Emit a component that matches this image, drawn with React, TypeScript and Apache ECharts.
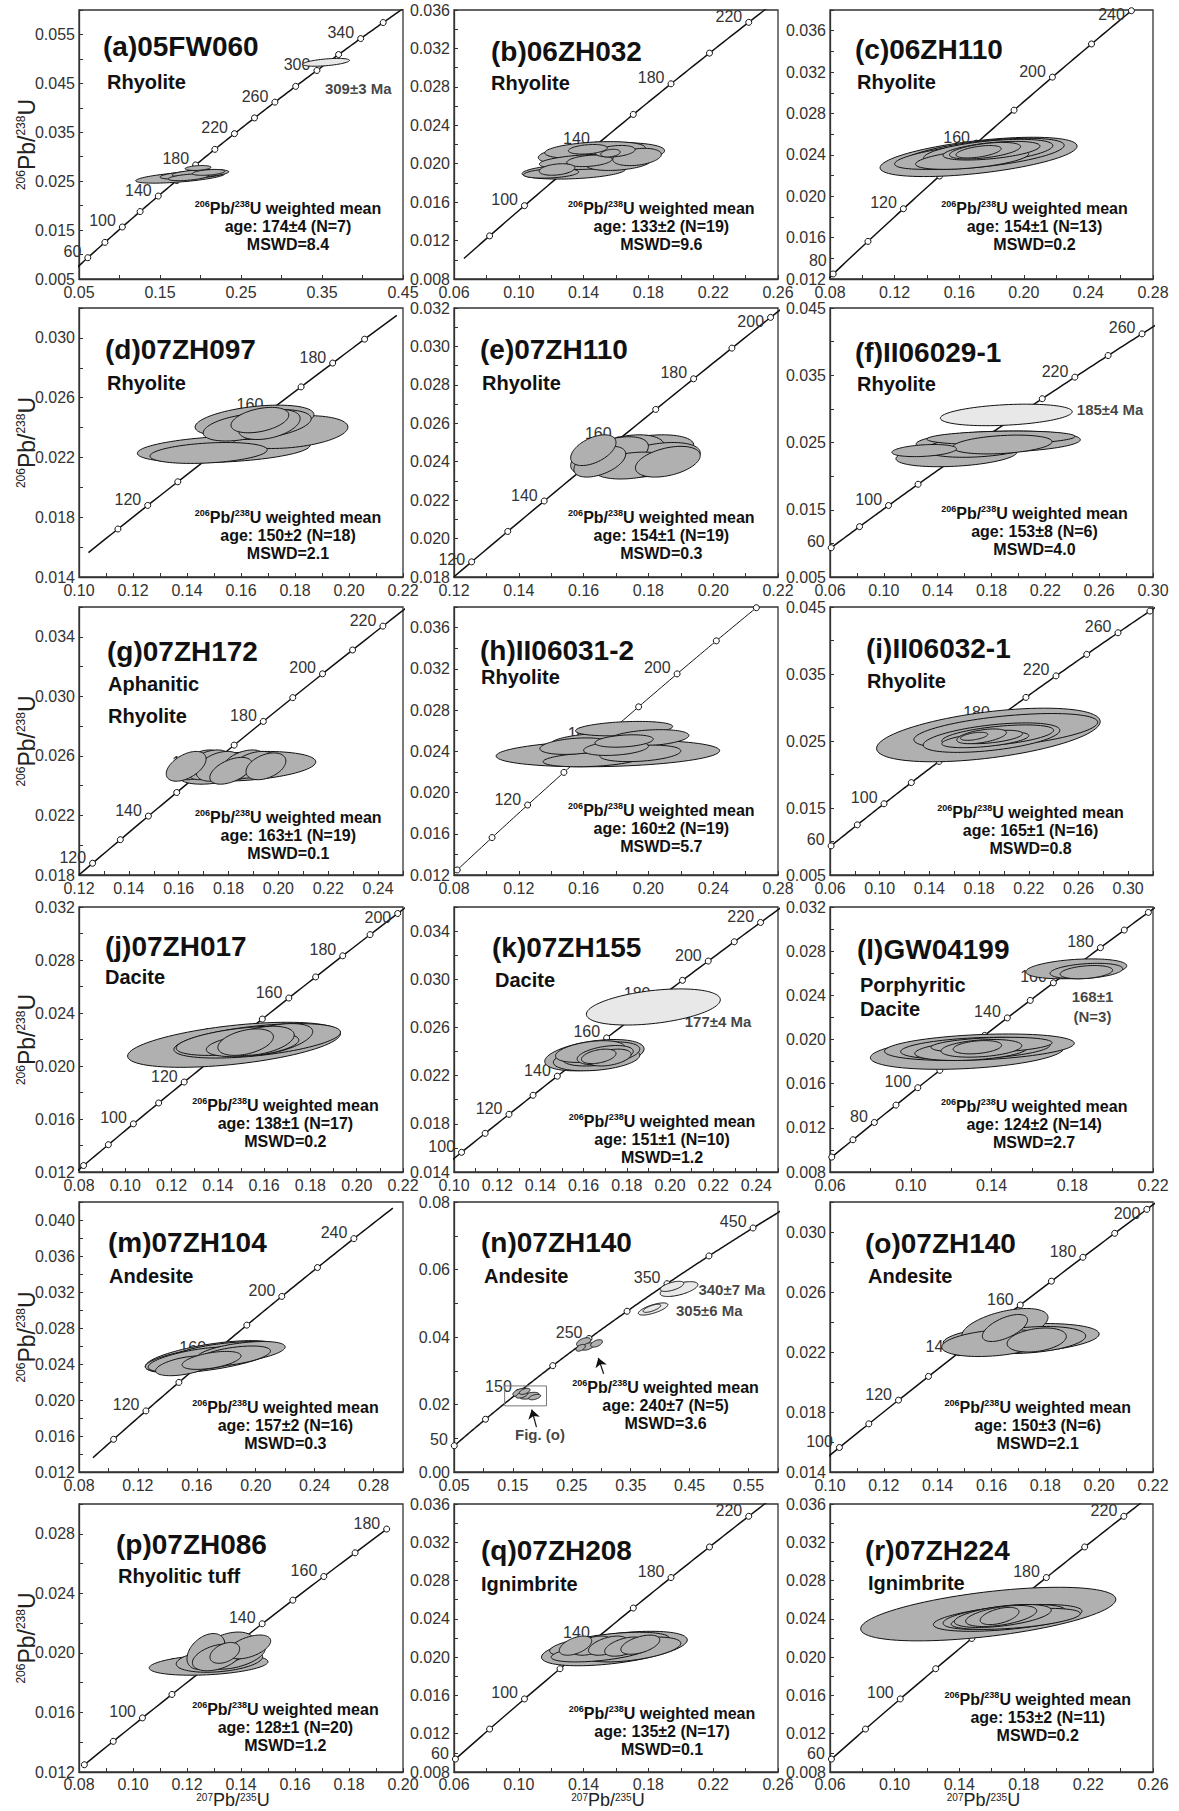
import React, { useEffect, useRef } from "react";
import * as echarts from "echarts";

// ---------- decay constants (per Ma) for the concordia curve ----------
const LAMBDA_238 = 1.55125e-4;
const LAMBDA_235 = 9.8485e-4;
const ratio206 = (t: number) => Math.exp(LAMBDA_238 * t) - 1;
const ratio207 = (t: number) => Math.exp(LAMBDA_235 * t) - 1;

// ---------- panel texts ----------
const panelLetters = ["a", "b", "c", "d", "e", "f", "g", "h", "i", "j", "k", "l", "m", "n", "o", "p", "q", "r"];
const sampleNames = ["05FW060", "06ZH032", "06ZH110", "07ZH097", "07ZH110", "II06029-1", "07ZH172", "II06031-2", "II06032-1",
  "07ZH017", "07ZH155", "GW04199", "07ZH104", "07ZH140", "07ZH140", "07ZH086", "07ZH208", "07ZH224"];
const rockNames = [["Rhyolite"], ["Rhyolite"], ["Rhyolite"], ["Rhyolite"], ["Rhyolite"], ["Rhyolite"], ["Aphanitic", "Rhyolite"],
  ["Rhyolite"], ["Rhyolite"], ["Dacite"], ["Dacite"], ["Porphyritic", "Dacite"], ["Andesite"], ["Andesite"], ["Andesite"],
  ["Rhyolitic tuff"], ["Ignimbrite"], ["Ignimbrite"]];
const meanAges = ["174±4 (N=7)", "133±2 (N=19)", "154±1 (N=13)", "150±2 (N=18)", "154±1 (N=19)", "153±8 (N=6)", "163±1 (N=19)",
  "160±2 (N=19)", "165±1 (N=16)", "138±1 (N=17)", "151±1 (N=10)", "124±2 (N=14)", "157±2 (N=16)", "240±7 (N=5)", "150±3 (N=6)",
  "128±1 (N=20)", "135±2 (N=17)", "153±2 (N=11)"];
const mswdValues = ["8.4", "9.6", "0.2", "2.1", "0.3", "4.0", "0.1", "5.7", "0.8", "0.2", "1.2", "2.7", "0.3", "3.6", "2.1", "1.2", "0.1", "0.2"];

// ---------- axes: [min, max, tick step, label step] ----------
const xAxisRanges = [
  [0.05, 0.45, 0.05, 0.1], [0.06, 0.26, 0.02, 0.04], [0.08, 0.28, 0.02, 0.04],
  [0.1, 0.22, 0.01, 0.02], [0.12, 0.22, 0.01, 0.02], [0.06, 0.3, 0.02, 0.04],
  [0.12, 0.25, 0.01, 0.02], [0.08, 0.28, 0.02, 0.04], [0.06, 0.32, 0.02, 0.04],
  [0.08, 0.22, 0.01, 0.02], [0.1, 0.25, 0.01, 0.02], [0.06, 0.22, 0.02, 0.04],
  [0.08, 0.3, 0.02, 0.04], [0.05, 0.6, 0.05, 0.1], [0.1, 0.22, 0.01, 0.02],
  [0.08, 0.2, 0.01, 0.02], [0.06, 0.26, 0.02, 0.04], [0.06, 0.26, 0.02, 0.04],
];
const yAxisRanges = [
  [0.005, 0.06, 0.005, 0.01], [0.008, 0.036, 0.002, 0.004], [0.012, 0.038, 0.002, 0.004],
  [0.014, 0.032, 0.002, 0.004], [0.018, 0.032, 0.001, 0.002], [0.005, 0.045, 0.005, 0.01],
  [0.018, 0.036, 0.002, 0.004], [0.012, 0.038, 0.002, 0.004], [0.005, 0.045, 0.005, 0.01],
  [0.012, 0.032, 0.002, 0.004], [0.014, 0.036, 0.002, 0.004], [0.008, 0.032, 0.002, 0.004],
  [0.012, 0.042, 0.002, 0.004], [0.0, 0.08, 0.01, 0.02], [0.014, 0.032, 0.002, 0.004],
  [0.012, 0.03, 0.002, 0.004], [0.008, 0.036, 0.002, 0.004], [0.008, 0.036, 0.002, 0.004],
];
const yLabelDecimals = [3, 3, 3, 3, 3, 3, 3, 3, 3, 3, 3, 3, 3, 2, 3, 3, 3, 3];

// ---------- concordia ages (Ma) ----------
const markerAges = [
  [60, 80, 100, 120, 140, 160, 180, 200, 220, 240, 260, 280, 300, 320, 340, 360],
  [80, 100, 120, 140, 160, 180, 200, 220],
  [80, 100, 120, 140, 160, 180, 200, 220, 240],
  [110, 120, 130, 140, 150, 160, 170, 180, 190],
  [120, 130, 140, 150, 160, 170, 180, 190, 200],
  [60, 80, 100, 120, 140, 160, 180, 200, 220, 240, 260],
  [120, 130, 140, 150, 160, 170, 180, 190, 200, 210, 220],
  [80, 100, 120, 140, 160, 180, 200, 220, 240],
  [60, 80, 100, 120, 140, 160, 180, 200, 220, 240, 260, 280],
  [80, 90, 100, 110, 120, 130, 140, 150, 160, 170, 180, 190, 200],
  [100, 110, 120, 130, 140, 150, 160, 170, 180, 190, 200, 210, 220],
  [60, 70, 80, 90, 100, 110, 120, 130, 140, 150, 160, 170, 180, 190, 200],
  [100, 120, 140, 160, 180, 200, 220, 240],
  [50, 100, 150, 200, 250, 300, 350, 400, 450],
  [100, 110, 120, 130, 140, 150, 160, 170, 180, 190, 200],
  [80, 90, 100, 110, 120, 130, 140, 150, 160, 170, 180],
  [60, 80, 100, 120, 140, 160, 180, 200, 220],
  [60, 80, 100, 120, 140, 160, 180, 200, 220],
];
const labelAges = [
  [60, 100, 140, 180, 220, 260, 300, 340], [100, 140, 180, 220], [80, 120, 160, 200, 240],
  [120, 140, 160, 180], [120, 140, 160, 180, 200], [60, 100, 140, 180, 220, 260],
  [120, 140, 160, 180, 200, 220], [120, 160, 200], [60, 100, 140, 180, 220, 260],
  [100, 120, 140, 160, 180, 200], [100, 120, 140, 160, 180, 200, 220], [80, 100, 120, 140, 160, 180],
  [120, 160, 200, 240], [50, 150, 250, 350, 450], [100, 120, 140, 160, 180, 200],
  [100, 120, 140, 160, 180], [60, 100, 140, 180, 220], [60, 100, 140, 180, 220],
];
const lineAgeRanges = [
  [45, 400], [65, 240], [75, 250], [100, 200], [115, 205], [55, 290], [115, 235], [80, 240], [55, 290],
  [75, 210], [95, 235], [55, 210], [87, 262], [40, 500], [95, 210], [80, 180], [55, 235], [55, 235],
];

// ---------- error ellipses: [centre 207/235, centre 206/238, half-width x, half-height y, rho] ----------
const ellipsesA = [[0.175, 0.0258, 0.055, 0.0012, 0.6], [0.19, 0.0263, 0.04, 0.0009, 0.5], [0.2, 0.0266, 0.035, 0.0008, 0.4],
  [0.185, 0.0258, 0.025, 0.0007, 0.5], [0.21, 0.0268, 0.02, 0.0006, 0.4], [0.197, 0.0277, 0.016, 0.0005, 0.3]];
const ellipsesB = [[0.151, 0.021, 0.039, 0.0012, 0.3], [0.134, 0.0192, 0.032, 0.0008, 0.3], [0.147, 0.0214, 0.031, 0.0009, 0.3],
  [0.1447, 0.0202, 0.032, 0.0008, 0.3], [0.1615, 0.0201, 0.02, 0.0008, 0.3], [0.173, 0.0207, 0.015, 0.0009, 0.3],
  [0.12, 0.019, 0.017, 0.0005, 0.3], [0.1436, 0.0203, 0.014, 0.0006, 0.3], [0.1595, 0.0213, 0.0123, 0.0006, 0.3],
  [0.1236, 0.0194, 0.011, 0.0006, 0.3], [0.1426, 0.0215, 0.012, 0.0005, 0.3], [0.1566, 0.0211, 0.006, 0.0004, 0.3]];
const ellipsesC = [[0.172, 0.0238, 0.061, 0.0019, 0.55], [0.175, 0.0241, 0.05, 0.0015, 0.55], [0.165, 0.0239, 0.045, 0.0013, 0.6],
  [0.178, 0.0243, 0.04, 0.0012, 0.5], [0.168, 0.0236, 0.035, 0.001, 0.5], [0.18, 0.0244, 0.03, 0.0009, 0.5],
  [0.176, 0.0244, 0.022, 0.0008, 0.5], [0.172, 0.0243, 0.014, 0.0006, 0.5]];
const ellipsesD = [[0.1536, 0.02255, 0.032, 0.0009, 0.3], [0.148, 0.0223, 0.0217, 0.0007, 0.3], [0.165, 0.02445, 0.022, 0.00105, 0.4],
  [0.178, 0.0237, 0.0216, 0.0011, 0.3], [0.168, 0.0242, 0.018, 0.001, 0.4], [0.16, 0.024, 0.014, 0.0009, 0.4],
  [0.1705, 0.0242, 0.0114, 0.001, 0.4], [0.167, 0.0245, 0.0107, 0.00085, 0.4]];
const ellipsesE = [[0.178, 0.0245, 0.016, 0.0009, 0.4], [0.182, 0.0241, 0.014, 0.0009, 0.4], [0.172, 0.0244, 0.013, 0.001, 0.4],
  [0.168, 0.0243, 0.012, 0.001, 0.5], [0.175, 0.0238, 0.012, 0.0007, 0.3], [0.186, 0.024, 0.01, 0.0008, 0.4],
  [0.165, 0.024, 0.008, 0.0008, 0.5], [0.163, 0.0246, 0.007, 0.0008, 0.5]];
const ellipsesF = [[0.185, 0.0251, 0.061, 0.0016, 0.2], [0.187, 0.0257, 0.055, 0.001, 0.2], [0.154, 0.0231, 0.045, 0.0017, 0.3],
  [0.171, 0.0244, 0.04, 0.0016, 0.3], [0.188, 0.0247, 0.037, 0.0014, 0.3], [0.13, 0.0238, 0.024, 0.0009, 0.3]];
const ellipsesG = [[0.186, 0.0253, 0.029, 0.001, 0.3], [0.175, 0.025, 0.015, 0.0009, 0.4], [0.163, 0.0253, 0.008, 0.001, 0.5],
  [0.168, 0.0254, 0.009, 0.001, 0.5], [0.172, 0.0254, 0.009, 0.001, 0.4], [0.176, 0.0253, 0.009, 0.001, 0.4],
  [0.181, 0.025, 0.0085, 0.0009, 0.5], [0.186, 0.0254, 0.009, 0.001, 0.4], [0.19, 0.0254, 0.009, 0.0009, 0.4],
  [0.195, 0.0253, 0.008, 0.0009, 0.4]];
const ellipsesH = [[0.175, 0.0238, 0.069, 0.0013, 0.2], [0.185, 0.0262, 0.03, 0.0007, 0.3], [0.17, 0.025, 0.03, 0.0008, 0.3],
  [0.165, 0.0232, 0.03, 0.0007, 0.3], [0.2, 0.0253, 0.025, 0.0008, 0.3], [0.195, 0.0238, 0.025, 0.0008, 0.3],
  [0.155, 0.0245, 0.022, 0.0008, 0.3], [0.18, 0.0243, 0.02, 0.0007, 0.3], [0.185, 0.025, 0.018, 0.0006, 0.3]];
const ellipsesI = [[0.1875, 0.0259, 0.09, 0.004, 0.5], [0.2015, 0.0265, 0.074, 0.0026, 0.5], [0.19, 0.0255, 0.055, 0.0022, 0.5],
  [0.195, 0.0258, 0.045, 0.0016, 0.5], [0.185, 0.0252, 0.035, 0.0012, 0.5], [0.19, 0.0256, 0.025, 0.001, 0.5],
  [0.182, 0.0257, 0.02, 0.0011, 0.5], [0.176, 0.0257, 0.011, 0.0006, 0.5]];
const ellipsesJ = [[0.147, 0.0216, 0.046, 0.0017, 0.5], [0.157, 0.0219, 0.036, 0.0013, 0.5], [0.15, 0.0219, 0.028, 0.0011, 0.5],
  [0.155, 0.0216, 0.02, 0.0009, 0.4], [0.163, 0.022, 0.018, 0.0012, 0.5], [0.158, 0.0219, 0.015, 0.0011, 0.4],
  [0.152, 0.0218, 0.012, 0.001, 0.4]];
const ellipsesK = [[0.165, 0.0237, 0.023, 0.0013, 0.4], [0.166, 0.0234, 0.02, 0.001, 0.3], [0.168, 0.0238, 0.018, 0.001, 0.4],
  [0.163, 0.024, 0.016, 0.0009, 0.4], [0.17, 0.0237, 0.013, 0.0008, 0.4], [0.172, 0.0235, 0.01, 0.0007, 0.4],
  [0.167, 0.0236, 0.008, 0.0006, 0.4]];
const ellipsesL = [[0.182, 0.0264, 0.025, 0.0009, 0.3], [0.187, 0.0262, 0.018, 0.0007, 0.3], [0.187, 0.0261, 0.013, 0.0006, 0.3],
  [0.128, 0.0188, 0.048, 0.0015, 0.3], [0.134, 0.0193, 0.047, 0.0012, 0.3], [0.132, 0.0192, 0.037, 0.001, 0.3],
  [0.14, 0.0195, 0.03, 0.0007, 0.3], [0.13, 0.019, 0.028, 0.0009, 0.3], [0.135, 0.0192, 0.02, 0.0008, 0.3],
  [0.133, 0.0193, 0.012, 0.0006, 0.3]];
const ellipsesM = [[0.17, 0.0248, 0.045, 0.0018, 0.6], [0.165, 0.0246, 0.04, 0.0015, 0.6], [0.175, 0.025, 0.04, 0.0014, 0.6],
  [0.18, 0.0252, 0.038, 0.0013, 0.5], [0.16, 0.0245, 0.033, 0.0014, 0.6], [0.19, 0.0253, 0.03, 0.0012, 0.5],
  [0.185, 0.0249, 0.025, 0.0011, 0.5], [0.17, 0.0244, 0.02, 0.001, 0.5], [0.152, 0.0238, 0.02, 0.0011, 0.5]];
const ellipsesN = [[0.27, 0.0385, 0.012, 0.0013, 0.5], [0.277, 0.0372, 0.011, 0.0011, 0.5], [0.292, 0.0381, 0.01, 0.0011, 0.5],
  [0.265, 0.0368, 0.008, 0.001, 0.5], [0.162, 0.0236, 0.012, 0.0012, 0.5], [0.178, 0.0226, 0.016, 0.001, 0.5],
  [0.17, 0.0239, 0.009, 0.0009, 0.5], [0.187, 0.0222, 0.01, 0.0008, 0.5], [0.165, 0.0228, 0.01, 0.0009, 0.5]];
const ellipsesO = [[0.171, 0.0229, 0.029, 0.001, 0.3], [0.174, 0.0228, 0.021, 0.0009, 0.3], [0.161, 0.0226, 0.0195, 0.0009, 0.3],
  [0.165, 0.0237, 0.016, 0.0012, 0.5], [0.1768, 0.0228, 0.011, 0.0008, 0.3], [0.165, 0.0236, 0.0084, 0.0009, 0.6]];
const ellipsesP = [[0.128, 0.0192, 0.022, 0.0007, 0.3], [0.132, 0.0195, 0.016, 0.0008, 0.3], [0.137, 0.0199, 0.012, 0.001, 0.4],
  [0.135, 0.0203, 0.01, 0.0011, 0.4], [0.131, 0.0197, 0.009, 0.0009, 0.4], [0.127, 0.0201, 0.007, 0.0012, 0.4],
  [0.143, 0.0204, 0.008, 0.0008, 0.5], [0.134, 0.02, 0.0055, 0.0007, 0.4]];
const ellipsesQ = [[0.159, 0.0209, 0.045, 0.0018, 0.5], [0.156, 0.0213, 0.037, 0.0013, 0.5], [0.17, 0.0208, 0.03, 0.0013, 0.5],
  [0.15, 0.0205, 0.03, 0.001, 0.5], [0.135, 0.0212, 0.01, 0.001, 0.5], [0.145, 0.0212, 0.012, 0.001, 0.5],
  [0.155, 0.0212, 0.012, 0.001, 0.5], [0.165, 0.0211, 0.012, 0.001, 0.5], [0.175, 0.0213, 0.012, 0.001, 0.5]];
const ellipsesR = [[0.158, 0.0245, 0.079, 0.0028, 0.55], [0.17, 0.0241, 0.046, 0.0014, 0.5], [0.175, 0.024, 0.04, 0.0011, 0.5],
  [0.168, 0.0242, 0.038, 0.0013, 0.5], [0.167, 0.0243, 0.03, 0.0012, 0.5], [0.166, 0.0243, 0.022, 0.0011, 0.5],
  [0.165, 0.0243, 0.012, 0.0009, 0.5]];
const darkEllipseSets = [ellipsesA, ellipsesB, ellipsesC, ellipsesD, ellipsesE, ellipsesF, ellipsesG, ellipsesH, ellipsesI,
  ellipsesJ, ellipsesK, ellipsesL, ellipsesM, ellipsesN, ellipsesO, ellipsesP, ellipsesQ, ellipsesR];

// light (rejected / inherited) ellipses
const lightEllipsesA = [[0.355, 0.0493, 0.029, 0.0008, 0.5]];
const lightEllipsesF = [[0.191, 0.0291, 0.049, 0.0016, 0.3]];
const lightEllipsesK = [[0.1923, 0.0277, 0.031, 0.0015, 0.4]];
const lightEllipsesN = [[0.432, 0.0542, 0.032, 0.0022, 0.6], [0.42, 0.055, 0.02, 0.0015, 0.6],
  [0.388, 0.0483, 0.025, 0.0018, 0.7], [0.386, 0.0485, 0.015, 0.0012, 0.7]];
const lightEllipsePanels = [0, 5, 10, 13];
const lightEllipseSets = [lightEllipsesA, lightEllipsesF, lightEllipsesK, lightEllipsesN];

// annotations placed at data coordinates
const annotationPanels = [0, 5, 10, 11, 11, 13, 13, 13];
const annotationTexts = ["309±3 Ma", "185±4 Ma", "177±4 Ma", "168±1", "(N=3)", "340±7 Ma", "305±6 Ma", "Fig. (o)"];
const annotationCoords = [[0.353, 0.0439], [0.243, 0.0299], [0.2066, 0.0265], [0.19, 0.0239], [0.19, 0.0221],
  [0.464, 0.054], [0.426, 0.0479], [0.196, 0.0112]];
const annotationAlign = ["left", "left", "left", "center", "center", "left", "left", "center"];

// panel (n): zoom box and arrows
const figOBox = [[0.136, 0.0196], [0.207, 0.0196], [0.207, 0.0255], [0.136, 0.0255], [0.136, 0.0196]];
const arrowsN = [[[0.19, 0.0133], [0.182, 0.0185]], [[0.304, 0.0291], [0.295, 0.0338]]];

// ---------- layout (pixels) ----------
const colLefts = [79, 454, 830];
const colWidths = [324, 324, 323];
const rowTops = [10, 308, 607, 907, 1202, 1504];
const rowHeights = [269, 269, 268, 265, 270, 268];
const titleOffsets = [[24, 36], [37, 41], [25, 39], [26, 41], [26, 41], [25, 44], [28, 44], [26, 43], [36, 41],
  [26, 39], [38, 40], [27, 42], [29, 40], [27, 40], [35, 41], [37, 40], [27, 46], [35, 46]];
const rockOffsets = [[28, 72], [37, 73], [27, 72], [28, 75], [28, 75], [27, 76], [29, 77], [27, 70], [37, 74],
  [26, 70], [41, 73], [30, 78], [30, 74], [30, 74], [38, 74], [39, 72], [27, 80], [38, 79]];
const rockLineGaps = [0, 0, 0, 0, 0, 0, 32, 0, 0, 0, 0, 24, 0, 0, 0, 0, 0, 0];
const statsOffsets = [[0.645, 198], [0.64, 198], [0.633, 198], [0.645, 209], [0.64, 209], [0.633, 205], [0.646, 210],
  [0.64, 203], [0.621, 205], [0.637, 198], [0.642, 214], [0.632, 199], [0.637, 205], [0.653, 185], [0.643, 205],
  [0.637, 205], [0.642, 209], [0.643, 195]];
// age-label offsets that differ from the default (panel index - age)
const ageLabelOffsetOverrides: Record<string, number[]> = { "2-80": [0, -13], "4-120": [0, -2] };

const FONT = "'Liberation Sans', Arial, Helvetica, sans-serif";

function onStep(v: number, min: number, step: number) {
  const k = (v - min) / step;
  return Math.abs(k - Math.round(k)) < 1e-6;
}

function supRich(main: number, sup: number, weight: string, color: string, lh: number) {
  return {
    m: { fontSize: main, fontWeight: weight, fontFamily: FONT, verticalAlign: "middle", lineHeight: lh, fill: color, color },
    s: { fontSize: sup, fontWeight: weight, fontFamily: FONT, verticalAlign: "top", lineHeight: lh, fill: color, color },
  };
}

function buildOption() {
  const grids: any[] = [];
  const xAxes: any[] = [];
  const yAxes: any[] = [];
  const series: any[] = [];
  const elements: any[] = [];

  for (let i = 0; i < 18; i++) {
    const col = i % 3;
    const row = Math.floor(i / 3);
    const left = colLefts[col];
    const top = rowTops[row];
    const width = colWidths[col];
    const height = rowHeights[row];
    grids.push({ left, top, width, height, show: true, borderColor: "#333", borderWidth: 1.3, backgroundColor: "#fff", containLabel: false });

    const [xmin, xmax, xstep, xlab] = xAxisRanges[i];
    const [ymin, ymax, ystep, ylab] = yAxisRanges[i];
    const ydec = yLabelDecimals[i];
    xAxes.push({
      gridIndex: i, type: "value", min: xmin, max: xmax, interval: xstep,
      axisLine: { show: true, onZero: false, lineStyle: { color: "#333", width: 1.3 } },
      axisTick: { show: true, inside: true, length: 4, lineStyle: { color: "#333", width: 1 } },
      axisLabel: { show: true, margin: row === 5 ? 4 : 5, fontSize: 16, lineHeight: 16, color: "#333", fontFamily: FONT,
        formatter: (v: number) => (onStep(v, xmin, xlab) ? v.toFixed(2) : "") },
      splitLine: { show: false },
    });
    yAxes.push({
      gridIndex: i, type: "value", min: ymin, max: ymax, interval: ystep,
      axisLine: { show: true, onZero: false, lineStyle: { color: "#333", width: 1.3 } },
      axisTick: { show: true, inside: true, length: 4, lineStyle: { color: "#333", width: 1 } },
      axisLabel: { show: true, margin: 4, fontSize: 16, color: "#333", fontFamily: FONT,
        formatter: (v: number) => (onStep(v, ymin, ylab) ? v.toFixed(ydec) : "") },
      splitLine: { show: false },
    });

    // concordia line
    const [a0, a1] = lineAgeRanges[i];
    const linePts: number[][] = [];
    for (let t = a0; t <= a1 + 1e-9; t += 2) linePts.push([ratio207(t), ratio206(t)]);
    series.push({
      type: "line", xAxisIndex: i, yAxisIndex: i, data: linePts, symbol: "none", silent: true, clip: true, z: 2,
      lineStyle: { color: "#111", width: i === 7 ? 1 : 1.5 },
    });

    // age markers
    series.push({
      type: "scatter", xAxisIndex: i, yAxisIndex: i, silent: true, z: 3, symbol: "circle", symbolSize: 6,
      itemStyle: { color: "#fff", borderColor: "#111", borderWidth: 1, opacity: 1 },
      data: markerAges[i].map((t) => {
        const y = ratio206(t);
        const nearTop = (ymax - y) / (ymax - ymin) < 0.04;
        const override = ageLabelOffsetOverrides[`${i}-${t}`];
        return {
          name: String(t), value: [ratio207(t), y],
          label: { show: labelAges[i].includes(t), offset: override || (nearTop ? [0, 4] : [0, -6]) },
        };
      }),
      label: { position: "left", distance: 3, formatter: (p: any) => p.name, fontSize: 16, color: "#333", fontFamily: FONT },
    });

    // ellipses
    const items: number[][] = darkEllipseSets[i].map((e) => [...e, 0]);
    const li = lightEllipsePanels.indexOf(i);
    if (li >= 0) lightEllipseSets[li].forEach((e) => items.push([...e, 1]));
    items.sort((p, q) => q[2] * q[3] - p[2] * p[3]);
    series.push({
      type: "custom", xAxisIndex: i, yAxisIndex: i, silent: true, z: 4, clip: true,
      encode: { x: 0, y: 1 },
      data: items,
      renderItem: (params: any, api: any) => {
        const cx = api.value(0), cy = api.value(1), ex = api.value(2), ey = api.value(3), rho = api.value(4), light = api.value(5);
        const s = Math.sqrt(1 - rho * rho);
        const pts: number[][] = [];
        for (let k = 0; k < 90; k++) {
          const th = (k / 90) * Math.PI * 2;
          const c = Math.cos(th), sn = Math.sin(th);
          pts.push(api.coord([cx + ex * c, cy + ey * (rho * c + s * sn)]));
        }
        return {
          type: "polygon", shape: { points: pts },
          style: { fill: light ? "#e8e8e8" : "#b0b0b0", stroke: "#111", lineWidth: 1 },
        };
      },
    });

    // text annotations in data coordinates
    const ann: any[] = [];
    annotationPanels.forEach((p, k) => {
      if (p !== i) return;
      ann.push({
        value: annotationCoords[k],
        label: { show: true, formatter: annotationTexts[k], position: annotationAlign[k] === "left" ? "right" : "inside", distance: 0 },
      });
    });
    if (ann.length) {
      series.push({
        type: "scatter", xAxisIndex: i, yAxisIndex: i, silent: true, z: 6, symbol: "circle", symbolSize: 1,
        itemStyle: { color: "rgba(0,0,0,0)" }, data: ann,
        label: { show: true, fontSize: 15, fontWeight: "bold", color: "#111", fontFamily: FONT },
      });
    }

    if (i === 13) {
      series.push({
        type: "line", xAxisIndex: i, yAxisIndex: i, data: figOBox, symbol: "none", silent: true, z: 5,
        lineStyle: { color: "#777", width: 1 },
        markLine: {
          silent: true, symbol: ["none", "arrow"], symbolSize: 9, animation: false,
          lineStyle: { color: "#111", width: 1.2, type: "solid" }, label: { show: false },
          data: arrowsN.map((a) => [{ coord: a[0] }, { coord: a[1] }]),
        },
      });
    }

    // title, rock type, statistics
    const [tdx, tdy] = titleOffsets[i];
    elements.push({
      type: "text", x: left + tdx, y: top + tdy, silent: true, z: 10,
      style: { text: `(${panelLetters[i]})${sampleNames[i]}`, font: `bold 28px ${FONT}`, fill: "#111",
        textAlign: "left", textVerticalAlign: "middle", align: "left", verticalAlign: "middle" },
    });
    const [rdx, rdy] = rockOffsets[i];
    rockNames[i].forEach((r, k) => {
      elements.push({
        type: "text", x: left + rdx, y: top + rdy + k * rockLineGaps[i], silent: true, z: 10,
        style: { text: r, font: `bold 20px ${FONT}`, fill: "#111", textAlign: "left", textVerticalAlign: "middle", align: "left", verticalAlign: "middle" },
      });
    });
    const [srx, sdy] = statsOffsets[i];
    const sx = left + srx * width;
    const statLines = ["{s|206}{m|Pb/}{s|238}{m|U weighted mean}", `{m|age: ${meanAges[i]}}`, `{m|MSWD=${mswdValues[i]}}`];
    statLines.forEach((line, k) => {
      elements.push({
        type: "text", x: sx, y: top + sdy + k * 18, silent: true, z: 10,
        style: { text: line, rich: supRich(16, 9, "bold", "#111", 18), font: `bold 16px ${FONT}`, fill: "#111",
          textAlign: "center", textVerticalAlign: "middle", align: "center", verticalAlign: "middle" },
      });
    });

    // axis titles
    if (col === 0) {
      elements.push({
        type: "text", x: 27, y: top + height / 2, rotation: Math.PI / 2, silent: true, z: 10,
        style: { text: "{s|206}{m|Pb/}{s|238}{m|U}", rich: supRich(23, 12, "normal", "#222", 25), font: `23px ${FONT}`, fill: "#222",
          textAlign: "center", textVerticalAlign: "middle", align: "center", verticalAlign: "middle" },
      });
    }
    if (row === 5) {
      elements.push({
        type: "text", x: left + width / 2 - 8, y: top + height + 28, silent: true, z: 10,
        style: { text: "{s|207}{m|Pb/}{s|235}{m|U}", rich: supRich(18, 10, "normal", "#222", 15), font: `18px ${FONT}`, fill: "#222",
          textAlign: "center", textVerticalAlign: "middle", align: "center", verticalAlign: "middle" },
      });
    }
  }

  return {
    animation: false,
    backgroundColor: "#fff",
    grid: grids,
    xAxis: xAxes,
    yAxis: yAxes,
    series,
    graphic: { elements },
  };
}

export default function App() {
  const ref = useRef<HTMLDivElement>(null);
  useEffect(() => {
    if (!ref.current) return;
    const chart = echarts.init(ref.current, undefined, { renderer: "svg" });
    chart.setOption(buildOption() as any);
    return () => chart.dispose();
  }, []);
  return <div ref={ref} style={{ position: "absolute", left: 0, top: 0, width: 1179, height: 1811, background: "#fff" }} />;
}
